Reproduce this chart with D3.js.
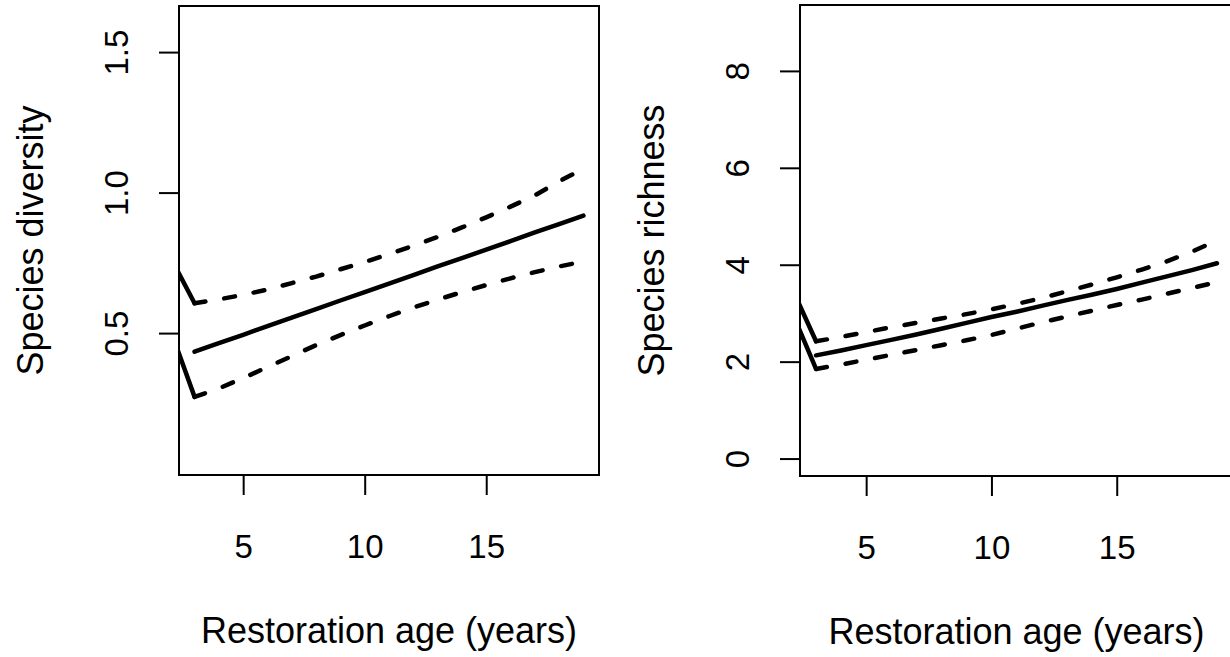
<!DOCTYPE html>
<html>
<head>
<meta charset="utf-8">
<script src="https://cdn.jsdelivr.net/npm/d3@7"></script>
<style>
  body { margin: 0; background: #fff; }
  text { font-family: "Liberation Sans", Arial, sans-serif; fill: #000; }
</style>
</head>
<body>
<div id="chart"></div>
<script>
const width = 1230,
    height = 657;

// x values (restoration age, years)
const ages = [3, 4, 5, 6, 7, 8, 9, 10, 11, 12, 13, 14, 15, 16, 17, 18, 19];
const xTicks = [5, 10, 15];

// left panel: species diversity
const divFit = [0.434, 0.464, 0.494, 0.525, 0.555, 0.585, 0.616, 0.646, 0.676, 0.706, 0.737, 0.767, 0.797, 0.827, 0.858, 0.888, 0.918];
const divUpper = [0.606, 0.620, 0.636, 0.655, 0.678, 0.701, 0.727, 0.753, 0.781, 0.811, 0.842, 0.876, 0.912, 0.950, 0.990, 1.040, 1.085];
const divLower = [0.273, 0.303, 0.340, 0.379, 0.418, 0.457, 0.493, 0.527, 0.560, 0.591, 0.619, 0.646, 0.671, 0.695, 0.717, 0.737, 0.755];
// the two short solid pieces coming in from the left edge
const divLeadX = [2, 3];
const divLeadUpper = [0.771, 0.606];
const divLeadLower = [0.513, 0.273];
const divTicks = [0.5, 1.0, 1.5];

// right panel: species richness
const richFit = [2.13, 2.23, 2.34, 2.45, 2.56, 2.68, 2.80, 2.92, 3.03, 3.15, 3.27, 3.38, 3.50, 3.63, 3.76, 3.89, 4.03];
const richUpper = [2.42, 2.51, 2.61, 2.71, 2.80, 2.89, 2.98, 3.08, 3.19, 3.31, 3.45, 3.59, 3.74, 3.90, 4.07, 4.27, 4.50];
const richLower = [1.85, 1.94, 2.04, 2.14, 2.24, 2.34, 2.44, 2.55, 2.68, 2.81, 2.93, 3.05, 3.17, 3.28, 3.40, 3.52, 3.64];
const richLeadX = [2, 3];
const richLeadUpper = [3.56, 2.42];
const richLeadLower = [3.07, 1.85];
const richTicks = [0, 2, 4, 6, 8];

var svg = d3.select('#chart')
    .append('svg')
    .attr('width', width)
    .attr('height', height);

let zip = (xs, ys) => xs.map((x, i) => [x, ys[i]]);

let drawPanel = (opt) => {
    const xScale = d3.scaleLinear()
        .domain([2.36, 19.64])
        .range([opt.left, opt.right]);
    const yScale = d3.scaleLinear()
        .domain(opt.yDomain)
        .range([opt.bottom, opt.top]);

    const clipId = 'clip-' + opt.id;
    svg.append('clipPath')
        .attr('id', clipId)
        .append('rect')
        .attr('x', opt.left)
        .attr('y', opt.top)
        .attr('width', opt.right - opt.left)
        .attr('height', opt.bottom - opt.top);

    const line = d3.line()
        .x(d => xScale(d[0]))
        .y(d => yScale(d[1]));

    const g = svg.append('g').attr('clip-path', 'url(#' + clipId + ')');

    // lead-in pieces (solid)
    [opt.leadUpper, opt.leadLower].forEach(vals => {
        g.append('path')
            .attr('d', line(zip(opt.leadX, vals)))
            .attr('fill', 'none')
            .attr('stroke', '#000')
            .attr('stroke-width', 4.5)
            .attr('stroke-linejoin', 'round')
            .attr('stroke-linecap', 'round');
    });

    // confidence limits (dashed)
    [opt.upper, opt.lower].forEach(vals => {
        g.append('path')
            .attr('d', line(zip(ages, vals)))
            .attr('fill', 'none')
            .attr('stroke', '#000')
            .attr('stroke-width', 4.5)
            .attr('stroke-dasharray', '11,19')
            .attr('stroke-linecap', 'round');
    });

    // fitted line
    g.append('path')
        .attr('d', line(zip(ages, opt.fit)))
        .attr('fill', 'none')
        .attr('stroke', '#000')
        .attr('stroke-width', 4.5)
        .attr('stroke-linecap', 'round');

    // box
    svg.append('rect')
        .attr('x', opt.left)
        .attr('y', opt.top)
        .attr('width', opt.right - opt.left)
        .attr('height', opt.bottom - opt.top)
        .attr('fill', 'none')
        .attr('stroke', '#000')
        .attr('stroke-width', 2);

    // x axis
    const xAxisG = svg.append('g')
        .attr('transform', 'translate(0,' + opt.bottom + ')')
        .call(d3.axisBottom(xScale).tickValues(xTicks).tickSize(20).tickFormat(d3.format('d')));
    xAxisG.select('.domain').remove();
    xAxisG.selectAll('line').attr('stroke', '#000').attr('stroke-width', 2);
    xAxisG.selectAll('text')
        .attr('y', 83)
        .attr('dy', null)
        .style('font-size', '33px')
        .style('font-family', '"Liberation Sans", Arial, sans-serif')
        .attr('fill', '#000');

    // y axis
    const yAxisG = svg.append('g')
        .attr('transform', 'translate(' + opt.left + ',0)')
        .call(d3.axisLeft(yScale).tickValues(opt.yTicks).tickSize(20).tickFormat(opt.yFormat));
    yAxisG.select('.domain').remove();
    yAxisG.selectAll('line').attr('stroke', '#000').attr('stroke-width', 2);
    yAxisG.selectAll('text')
        .attr('x', 0)
        .attr('dy', null)
        .attr('text-anchor', 'middle')
        .attr('transform', 'translate(-51,0) rotate(-90)')
        .style('font-size', '33px')
        .style('font-family', '"Liberation Sans", Arial, sans-serif')
        .attr('fill', '#000');

    // axis titles
    svg.append('text')
        .attr('x', (opt.left + opt.right) / 2)
        .attr('y', opt.bottom + 168)
        .attr('text-anchor', 'middle')
        .style('font-size', '36px')
        .text('Restoration age (years)');

    svg.append('text')
        .attr('transform', 'translate(' + (opt.left - 136) + ',' + ((opt.top + opt.bottom) / 2) + ') rotate(-90)')
        .attr('text-anchor', 'middle')
        .style('font-size', '36px')
        .text(opt.yLabel);
};

drawPanel({
    id: 'div', left: 179, right: 599, top: 6, bottom: 475,
    yDomain: [-0.005, 1.664], yTicks: divTicks, yFormat: d3.format('.1f'),
    fit: divFit, upper: divUpper, lower: divLower,
    leadX: divLeadX, leadUpper: divLeadUpper, leadLower: divLeadLower,
    yLabel: 'Species diversity'
});

drawPanel({
    id: 'rich', left: 800, right: 1233, top: 5, bottom: 476,
    yDomain: [-0.36, 9.36], yTicks: richTicks, yFormat: d3.format('d'),
    fit: richFit, upper: richUpper, lower: richLower,
    leadX: richLeadX, leadUpper: richLeadUpper, leadLower: richLeadLower,
    yLabel: 'Species richness'
});
</script>
</body>
</html>
